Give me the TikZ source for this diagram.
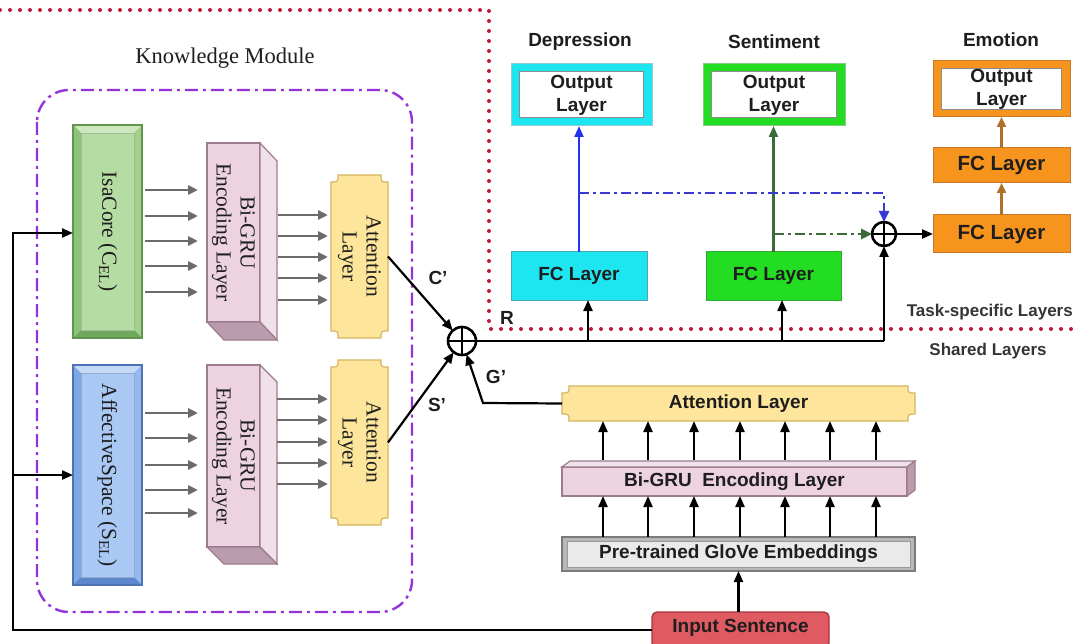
\documentclass[tikz,border=0pt]{standalone}
\usepackage{fontspec}
\setmainfont{Liberation Serif}
\setsansfont{Liberation Sans}
\usetikzlibrary{arrows.meta,calc}

\definecolor{dotred}{HTML}{C41838}
\definecolor{kpurple}{HTML}{9433DA}
\definecolor{isaF}{HTML}{B5DCA2}
\definecolor{isaT}{HTML}{CDE8BE}
\definecolor{isaL}{HTML}{8DC47A}
\definecolor{isaR}{HTML}{A3D08E}
\definecolor{isaB}{HTML}{6FA85C}
\definecolor{isaE}{HTML}{5F954D}
\definecolor{affF}{HTML}{A9C8F4}
\definecolor{affT}{HTML}{C6DAF8}
\definecolor{affL}{HTML}{7EA7E6}
\definecolor{affR}{HTML}{95B9EE}
\definecolor{affB}{HTML}{5D86CC}
\definecolor{affE}{HTML}{4D73B5}
\definecolor{gpink}{HTML}{EDD3E0}
\definecolor{gpinkS}{HTML}{EFE0EA}
\definecolor{gpinkB}{HTML}{BB9CAC}
\definecolor{gpinkE}{HTML}{9C7C8E}
\definecolor{attY}{HTML}{FDE59B}
\definecolor{attYE}{HTML}{D6B560}
\definecolor{cyanF}{HTML}{1EE6F0}
\definecolor{cyanE}{HTML}{4AA8B2}
\definecolor{brgreen}{HTML}{22DD22}
\definecolor{brgreenE}{HTML}{33A833}
\definecolor{orangeF}{HTML}{F7941D}
\definecolor{orangeE}{HTML}{C87A2A}
\definecolor{dkgreen}{HTML}{3B6B36}
\definecolor{brownA}{HTML}{B0702A}
\definecolor{blueA}{HTML}{2233F0}
\definecolor{blueD}{HTML}{3A3AD0}
\definecolor{redF}{HTML}{E05A62}
\definecolor{redE}{HTML}{A8363E}
\definecolor{gloveF}{HTML}{EAEAEA}
\definecolor{gloveE}{HTML}{9A9A9A}
\definecolor{txt}{HTML}{1E1E1E}

% bevel: node name, top, left, right, bottom colours
\newcommand\mybevel[5]{%
  \fill[#2] (#1.north west) -- (#1.north east) -- ($(#1.north east)+(-8,8)$) -- ($(#1.north west)+(8,8)$) -- cycle;
  \fill[#3] (#1.north west) -- ($(#1.north west)+(8,8)$) -- ($(#1.south west)+(8,-8)$) -- (#1.south west) -- cycle;
  \fill[#4] (#1.north east) -- ($(#1.north east)+(-8,8)$) -- ($(#1.south east)+(-8,-8)$) -- (#1.south east) -- cycle;
  \fill[#5] (#1.south west) -- ($(#1.south west)+(8,-8)$) -- ($(#1.south east)+(-8,-8)$) -- (#1.south east) -- cycle;
}
% notched plaque: node name, corner size
\newcommand\myplaque[2]{%
  \filldraw[fill=attY, draw=attYE, line width=1.2pt]
    ($(#1.north west)+(#2,0)$) -- ($(#1.north east)+(-#2,0)$)
    .. controls ($(#1.north east)+(-#2,#2)$) .. ($(#1.north east)+(0,#2)$)
    -- ($(#1.south east)+(0,-#2)$)
    .. controls ($(#1.south east)+(-#2,-#2)$) .. ($(#1.south east)+(-#2,0)$)
    -- ($(#1.south west)+(#2,0)$)
    .. controls ($(#1.south west)+(#2,-#2)$) .. ($(#1.south west)+(0,-#2)$)
    -- ($(#1.north west)+(0,#2)$)
    .. controls ($(#1.north west)+(#2,#2)$) .. cycle;
}

\begin{document}
\begin{tikzpicture}[x=1pt,y=-1pt,
  boxs/.style={rectangle, inner sep=0pt, outer sep=0pt},
  serif/.style={font=\fontsize{21.5}{24}\selectfont, text=txt, align=center, inner sep=0pt},
  sansb/.style={font=\sffamily\bfseries\fontsize{19}{23}\selectfont, text=txt, align=center, inner sep=0pt},
  smallb/.style={font=\sffamily\bfseries\fontsize{17}{20}\selectfont, text=txt!90, inner sep=0pt},
  ga/.style={draw=black!58, line width=2.6pt, -{Triangle[length=10pt,width=9pt]}},
  ba/.style={draw=black, line width=2.2pt, -{Triangle[length=11pt,width=9pt]}},
  oplus/.style={circle, draw=black, line width=2.6pt, inner sep=0pt, outer sep=0pt},
]
\useasboundingbox (0,0) rectangle (1078,644);
\fill[white] (0,0) rectangle (1078,644);

% region separators
\draw[dotred, line width=4pt, line cap=round, dash pattern=on 0pt off 10pt]
  (0,10) -- (489,10) -- (489,329) -- (1078,329);
\draw[kpurple, line width=2.4pt, dash pattern=on 13pt off 5pt on 3pt off 5pt, rounded corners=32pt]
  (37,90) rectangle (412,612);
\node[serif, font=\fontsize{22.5}{26}\selectfont] (km) at (225,58) {Knowledge Module};

% ---------- knowledge inputs ----------
\node[boxs, fill=isaF, minimum width=69, minimum height=213] (isa) at (107.5,231.5) {};
\mybevel{isa}{isaT}{isaL}{isaR}{isaB}
\draw[isaE, line width=1.2pt] (isa.north west) rectangle (isa.south east);
\draw[isaE!60, line width=0.8pt] ($(isa.north west)+(8,8)$) rectangle ($(isa.south east)+(-8,-8)$);
\node[serif, rotate=-90] (isat) at (isa.center) {IsaCore (C\textsubscript{EL})};

\node[boxs, fill=affF, minimum width=69, minimum height=220] (aff) at (107.5,475) {};
\mybevel{aff}{affT}{affL}{affR}{affB}
\draw[affE, line width=1.2pt] (aff.north west) rectangle (aff.south east);
\draw[affE!60, line width=0.8pt] ($(aff.north west)+(8,8)$) rectangle ($(aff.south east)+(-8,-8)$);
\node[serif, rotate=-90] (afft) at (aff.center) {AffectiveSpace (S\textsubscript{EL})};

% ---------- Bi-GRU boxes (3D) ----------
\node[boxs, fill=gpink, draw=gpinkE, line width=1.2pt, minimum width=53, minimum height=179] (gb1) at (233.5,232.5) {};
\filldraw[fill=gpinkS, draw=gpinkE, line width=1.2pt] (gb1.north east) -- ++(17,18) -- ++(0,179) -- (gb1.south east) -- cycle;
\filldraw[fill=gpinkB, draw=gpinkE, line width=1.2pt] (gb1.south west) -- (gb1.south east) -- ++(17,18) -- ++(-53,0) -- cycle;
\node[serif, rotate=-90] (gb1t) at (gb1.center) {Bi-GRU\\Encoding Layer};

\node[boxs, fill=gpink, draw=gpinkE, line width=1.2pt, minimum width=53, minimum height=182] (gb2) at (233.5,456) {};
\filldraw[fill=gpinkS, draw=gpinkE, line width=1.2pt] (gb2.north east) -- ++(17,17) -- ++(0,182) -- (gb2.south east) -- cycle;
\filldraw[fill=gpinkB, draw=gpinkE, line width=1.2pt] (gb2.south west) -- (gb2.south east) -- ++(17,17) -- ++(-53,0) -- cycle;
\node[serif, rotate=-90] (gb2t) at (gb2.center) {Bi-GRU\\Encoding Layer};

% ---------- attention (knowledge) ----------
\node[boxs, minimum width=57, minimum height=163] (att1) at (359.5,256.5) {};
\myplaque{att1}{7}
\node[serif, rotate=-90] (att1t) at (att1.center) {Attention\\Layer};
\node[boxs, minimum width=57, minimum height=165] (att2) at (359.5,442.5) {};
\myplaque{att2}{7}
\node[serif, rotate=-90] (att2t) at (att2.center) {Attention\\Layer};

% gray fan arrows
\foreach \y in {190,216,241,266,292}
  \draw[ga, shorten <=3pt, shorten >=9pt] (isa.east |- 0,\y) -- (gb1.west |- 0,\y);
\foreach \y in {215,236,257,278,300}
  \draw[ga, shorten <=18pt, shorten >=3pt] (gb1.east |- 0,\y) -- (att1.west |- 0,\y);
\foreach \y in {413,438,465,490,513}
  \draw[ga, shorten <=3pt, shorten >=9pt] (aff.east |- 0,\y) -- (gb2.west |- 0,\y);
\foreach \y in {399,420,442,463,484}
  \draw[ga, shorten <=17pt, shorten >=3pt] (gb2.east |- 0,\y) -- (att2.west |- 0,\y);

% ---------- shared layers ----------
\node[boxs, minimum width=353, minimum height=35] (satt) at (738.5,403.5) {};
\myplaque{satt}{7}
\node[sansb] (sattt) at (satt.center) {Attention Layer};

\node[boxs, fill=gpink, draw=gpinkE, line width=1.2pt, minimum width=345, minimum height=29] (sgru) at (734.5,481.5) {};
\filldraw[fill=gpinkS, draw=gpinkE, line width=1.2pt] (sgru.north west) -- ++(8,-6) -- ++(345,0) -- (sgru.north east) -- cycle;
\filldraw[fill=gpinkB, draw=gpinkE, line width=1.2pt] (sgru.north east) -- ++(8,-6) -- ++(0,29) -- (sgru.south east) -- cycle;
\node[sansb] (sgrut) at (sgru.center) {Bi-GRU~~Encoding Layer};

\node[boxs, fill=gloveE!70, draw=gloveE!80!black, line width=1.2pt, minimum width=353, minimum height=34] (glove) at (738.5,554) {};
\fill[gloveF] ($(glove.north west)+(5,4)$) rectangle ($(glove.south east)+(-5,-4)$);
\draw[gloveE, line width=0.8pt] ($(glove.north west)+(5,4)$) rectangle ($(glove.south east)+(-5,-4)$);
\node[sansb] (glovet) at (glove.center) {Pre-trained GloVe Embeddings};

\node[boxs, fill=redF, draw=redE, line width=1.4pt, rounded corners=5pt, minimum width=177, minimum height=36] (inp) at (740.5,630) {};
\node[sansb] (inpt) at (740.5,628) {Input Sentence};

\foreach \x in {603,648,694,740,785,830,876}
  \draw[ba, shorten <=7pt] (\x,0 |- sgru.north) -- (\x,0 |- satt.south);
\foreach \x in {603,648,694,740,785,830,876}
  \draw[ba] (\x,0 |- glove.north) -- (\x,0 |- sgru.south);
\draw[ba] (inp.north -| glove.south) -- (glove.south);

% input to knowledge bases
\coordinate (lb) at (13,630);
\coordinate (lt) at (13,233);
\coordinate (lm) at (13,475);
\draw[ba] (inp.west) -- (lb) -- (lt) -- (lt -| isa.west);
\draw[ba] (lm) -- (aff.west);

% fusion
\node[oplus, minimum size=28] (op1) at (462,341) {};
\draw[line width=2.4pt] (op1.north) -- (op1.south) (op1.west) -- (op1.east);
\draw[ba] (att1.east) -- (op1);
\draw[ba] (att2.east) -- (op1);
\coordinate (gbend) at (483,403);
\draw[ba] (satt.west) -- (gbend) -- (op1);
\node[sansb] (cl) at (438,278) {C’};
\node[sansb] (sl) at (437,405) {S’};
\node[sansb] (gl) at (496,377) {G’};
\node[sansb] (rl) at (507,318) {R};

% ---------- task specific ----------
\node[sansb] (dep) at (580,42) {Depression};
\node[sansb] (sen) at (774,42) {Sentiment};
\node[sansb] (emo) at (1001,40) {Emotion};

\node[boxs, fill=cyanF, draw=cyanE!60, line width=1pt, minimum width=141, minimum height=62] (dout) at (581.5,95) {};
\node[boxs, fill=white, draw=black!45, line width=1pt, minimum width=124, minimum height=46, sansb] (douti) at (581.5,95) {Output\\Layer};
\node[boxs, fill=brgreen, draw=brgreenE!60, line width=1pt, minimum width=142, minimum height=62] (sout) at (774,95) {};
\node[boxs, fill=white, draw=black!45, line width=1pt, minimum width=125, minimum height=46, sansb] (souti) at (774,95) {Output\\Layer};
\node[boxs, fill=orangeF, draw=orangeE, line width=1pt, minimum width=137, minimum height=56] (eout) at (1001.5,89) {};
\node[boxs, fill=white, draw=black!45, line width=1pt, minimum width=120, minimum height=40, sansb] (eouti) at (1001.5,89) {Output\\Layer};

\node[boxs, fill=cyanF, draw=cyanE, line width=1pt, minimum width=136, minimum height=48, sansb] (fcd) at (579,276) {FC Layer};
\node[boxs, fill=brgreen, draw=brgreenE, line width=1pt, minimum width=135, minimum height=48, sansb] (fcs) at (773.5,276) {FC Layer};
\node[boxs, fill=orangeF, draw=orangeE, line width=1pt, minimum width=137, minimum height=35, sansb, font=\sffamily\bfseries\fontsize{20.5}{23}\selectfont] (efc1) at (1001.5,165.5) {FC Layer};
\node[boxs, fill=orangeF, draw=orangeE, line width=1pt, minimum width=137, minimum height=38, sansb, font=\sffamily\bfseries\fontsize{20.5}{23}\selectfont] (efc2) at (1001.5,234) {FC Layer};

\node[oplus, minimum size=24] (op2) at (884,234) {};
\draw[line width=2.4pt] (op2.north) -- (op2.south) (op2.west) -- (op2.east);

% shared representation R
\coordinate (rend) at (884,341);
\coordinate (j1) at (588,341);
\coordinate (j2) at (782,341);
\draw[line width=2.2pt] (op1.east) -- (rend);
\draw[ba] (rend) -- (op2);
\draw[ba] (j1) -- (j1 |- fcd.south);
\draw[ba] (j2) -- (j2 |- fcs.south);

\draw[draw=blueA, line width=2.2pt, -{Triangle[length=11pt,width=9pt]}] (fcd.north) -- (fcd.north |- dout.south);
\draw[draw=dkgreen, line width=2.2pt, -{Triangle[length=11pt,width=9pt]}] (fcs.north) -- (fcs.north |- sout.south);
\coordinate (bd) at (fcd.north |- 0,193);
\coordinate (gd) at (fcs.north |- 0,234);
\draw[draw=blueD, line width=2.4pt, dash pattern=on 10pt off 4pt on 3pt off 4pt, -{Triangle[length=11pt,width=10pt,fill=blueA]}]
  (bd) -- (bd -| op2.north) -- (op2.north);
\draw[draw=dkgreen, line width=2.4pt, dash pattern=on 10pt off 4pt on 3pt off 4pt, -{Triangle[length=11pt,width=10pt]}]
  (gd) -- (op2.west);
\draw[ba] (op2.east) -- (efc2.west);
\draw[draw=brownA, line width=2.2pt, -{Triangle[length=10pt,width=9pt]}] (efc2.north) -- (efc1.south);
\draw[draw=brownA, line width=2.2pt, -{Triangle[length=10pt,width=9pt]}] (efc1.north) -- (eout.south);

\node[smallb, anchor=east] (tsl) at (1073,312) {Task-specific Layers};
\node[smallb] (shl) at (988,351) {Shared Layers};
\end{tikzpicture}
\end{document}
